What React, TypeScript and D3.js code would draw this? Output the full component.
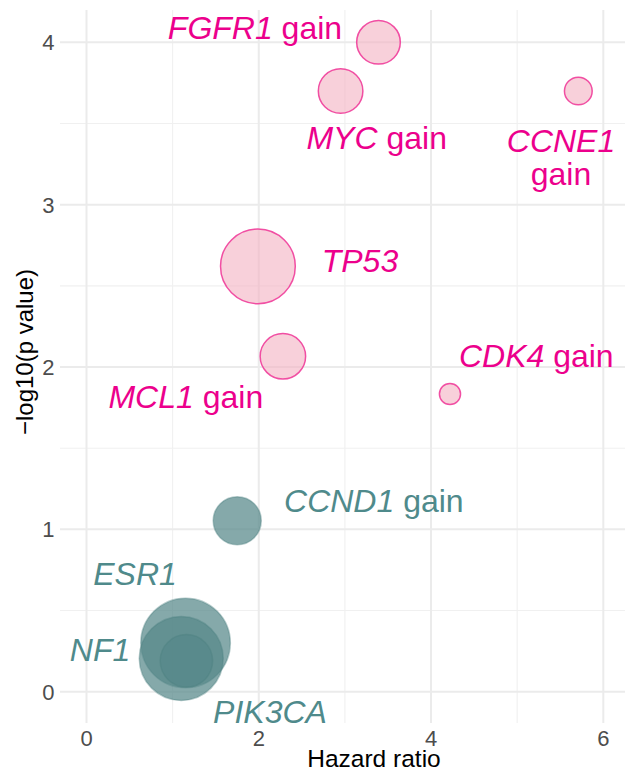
import React from "react";
import * as d3 from "d3";

const genes = ["FGFR1", "MYC", "CCNE1", "TP53", "MCL1", "CDK4", "CCND1", "ESR1", "NF1", "PIK3CA"];
const suffixes = [" gain", " gain", "", "", " gain", " gain", " gain", "", "", ""];
const hazardRatio = [3.39, 2.95, 5.71, 1.99, 2.28, 4.22, 1.75, 1.15, 1.10, 1.16];
const negLogP = [4.0, 3.70, 3.70, 2.62, 2.066, 1.834, 1.053, 0.30, 0.205, 0.19];
const sizeValue = [23.5, 24.5, 9.5, 69, 25.5, 5.5, 28.5, 99, 87, 34];
const significant = [true, true, true, true, true, true, false, false, false, false];
const labelX = [1.956, 3.369, 5.509, 3.175, 1.153, 5.222, 3.336, 0.563, 0.157, 2.13];
const labelY = [4.023, 3.343, 3.322, 2.583, 1.746, 2.002, 1.109, 0.657, 0.191, -0.195];
const secondLine = ["", "", "gain", "", "", "", "", "", "", ""];

const xMajor = [0, 2, 4, 6];
const xMinor = [1, 3, 5];
const yMajor = [0, 1, 2, 3, 4];
const yMinor = [0.5, 1.5, 2.5, 3.5];

export default function App() {
  const W = 625, H = 771;
  const x = d3.scaleLinear().domain([0, 6]).range([86.5, 603.3]);
  const y = d3.scaleLinear().domain([0, 4]).range([691.7, 42.3]);
  const r = d3.scaleSqrt().domain([0, 100]).range([0, 45]);
  const panel = { left: 60, right: 625, top: 10, bottom: 723 };

  const pinkText = "#ec008c";
  const tealText = "#4f8a8b";

  const pts = genes.map((g, i) => ({
    g, i, hr: hazardRatio[i], p: negLogP[i], s: sizeValue[i], sig: significant[i],
  }));
  const order = [...pts].sort((a, b) => b.s - a.s);

  return (
    <svg width={W} height={H} style={{ position: "absolute", left: 0, top: 0, fontFamily: "'Liberation Sans', Arial, sans-serif" }}>
      <rect x={0} y={0} width={W} height={H} fill="#ffffff" />
      {xMinor.map((v) => (
        <line key={"xm" + v} x1={x(v)} x2={x(v)} y1={panel.top} y2={panel.bottom} stroke="#f0f0f0" strokeWidth={1.1} />
      ))}
      {yMinor.map((v) => (
        <line key={"ym" + v} x1={panel.left} x2={panel.right} y1={y(v)} y2={y(v)} stroke="#f0f0f0" strokeWidth={1.1} />
      ))}
      {xMajor.map((v) => (
        <line key={"xM" + v} x1={x(v)} x2={x(v)} y1={panel.top} y2={panel.bottom} stroke="#ebebeb" strokeWidth={2} />
      ))}
      {yMajor.map((v) => (
        <line key={"yM" + v} x1={panel.left} x2={panel.right} y1={y(v)} y2={y(v)} stroke="#ebebeb" strokeWidth={2} />
      ))}

      {order.map((d) => (
        <circle
          key={d.g}
          cx={x(d.hr)}
          cy={y(d.p)}
          r={r(d.s)}
          fill={d.sig ? "#f4b3c4" : "#568889"}
          fillOpacity={d.sig ? 0.62 : 0.72}
          stroke={d.sig ? "#ef3d9a" : "#4a7f80"}
          strokeOpacity={d.sig ? 0.9 : 0.4}
          strokeWidth={1.5}
        />
      ))}

      {pts.map((d) => (
        <text
          key={"l" + d.g}
          x={x(labelX[d.i])}
          y={y(labelY[d.i])}
          textAnchor="middle"
          fontSize={32}
          fill={d.sig ? pinkText : tealText}
        >
          <tspan fontStyle="italic">{d.g}</tspan>
          {suffixes[d.i] ? <tspan>{suffixes[d.i]}</tspan> : null}
          {secondLine[d.i] ? (
            <tspan x={x(labelX[d.i])} dy={33}>{secondLine[d.i]}</tspan>
          ) : null}
        </text>
      ))}

      {yMajor.map((v) => (
        <text key={"yt" + v} x={54.5} y={y(v)} dy="0.36em" textAnchor="end" fontSize={22} fill="#4d4d4d">
          {v}
        </text>
      ))}
      {xMajor.map((v) => (
        <text key={"xt" + v} x={x(v)} y={745.5} textAnchor="middle" fontSize={22} fill="#4d4d4d">
          {v}
        </text>
      ))}
      <text x={374} y={767} textAnchor="middle" fontSize={24.5} fill="#000000">
        Hazard ratio
      </text>
      <text
        transform={`translate(33, 352) rotate(-90)`}
        textAnchor="middle"
        fontSize={24}
        fill="#000000"
      >
        −log10(p value)
      </text>
    </svg>
  );
}
